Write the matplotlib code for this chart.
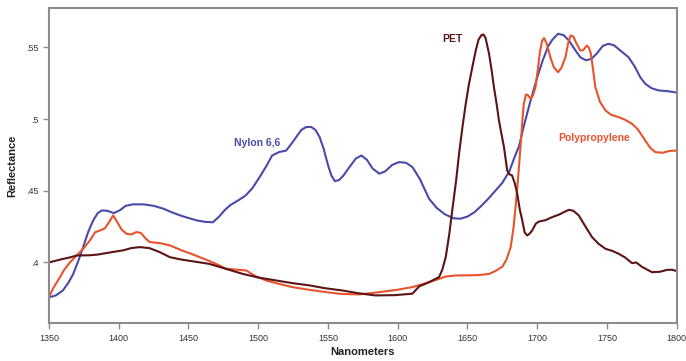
import matplotlib
matplotlib.use("Agg")
import matplotlib.pyplot as plt
from matplotlib.ticker import FuncFormatter

plt.rcParams["font.family"] = ["Liberation Sans Narrow", "Liberation Sans", "DejaVu Sans"]

# Nylon 6,6
nylon_nm = [1350, 1355, 1360, 1364, 1367.4, 1371, 1374.5, 1378, 1381.7, 1385, 1388, 1392,
            1396.5, 1401, 1405, 1410, 1418, 1425, 1432, 1438, 1444, 1450, 1456, 1462,
            1467.5, 1472, 1476, 1480, 1486, 1491, 1496, 1501, 1506, 1510, 1515, 1520,
            1524, 1528, 1531, 1534.3, 1538, 1541, 1544, 1547, 1550, 1552.5, 1555, 1558,
            1561, 1565, 1570, 1574, 1578, 1582, 1586.8, 1591, 1596, 1601, 1606, 1610.6,
            1616, 1622.5, 1628, 1634, 1640, 1645, 1650, 1655, 1660, 1665, 1670, 1675,
            1680, 1684, 1687, 1690, 1695, 1700, 1704, 1708, 1711, 1715, 1719, 1723,
            1727, 1731, 1735, 1739, 1743, 1747, 1751, 1755, 1760, 1765.6, 1770, 1774,
            1777.5, 1782, 1787, 1793, 1800]
nylon_r = [0.3756, 0.377, 0.3805, 0.386, 0.392, 0.401, 0.4107, 0.421, 0.4293, 0.4345, 0.4363, 0.436,
           0.4344, 0.4365, 0.4395, 0.4405, 0.4405, 0.4395, 0.4375, 0.435, 0.4328, 0.431, 0.4293, 0.4283,
           0.428, 0.432, 0.4365, 0.440, 0.4435, 0.4467, 0.452, 0.4595, 0.4675, 0.4746, 0.477, 0.478,
           0.483, 0.4885, 0.4925, 0.4944, 0.4945, 0.4925, 0.4875, 0.479, 0.468, 0.4605, 0.4567, 0.4575,
           0.4605, 0.466, 0.4725, 0.4746, 0.4715, 0.4655, 0.4619, 0.4635, 0.468, 0.470, 0.4695, 0.4665,
           0.458, 0.4444, 0.438, 0.4335, 0.4308, 0.4305, 0.432, 0.435, 0.4395, 0.4445, 0.450, 0.4555,
           0.4635, 0.474, 0.481, 0.4935, 0.512, 0.529, 0.541, 0.551, 0.5555, 0.5595, 0.5585, 0.5545,
           0.5485, 0.543, 0.541, 0.542, 0.546, 0.551, 0.5525, 0.5515, 0.5475, 0.543, 0.5365, 0.529,
           0.5246, 0.5215, 0.520, 0.5195, 0.5185]

# Polypropylene
pp_nm = [1350, 1353, 1357.9, 1361, 1365, 1370, 1375, 1379.3, 1383, 1387, 1390, 1393, 1396,
         1399, 1402, 1405.6, 1409, 1412.7, 1416, 1419, 1422.2, 1429.4, 1436.6, 1445, 1452,
         1458, 1465, 1472, 1477, 1484, 1491.4, 1498, 1505.7, 1515, 1524.5, 1536, 1548.6,
         1560, 1572.5, 1586.8, 1600, 1610.5, 1620, 1628, 1634.5, 1641.6, 1650, 1658.3,
         1665.5, 1670, 1675, 1678, 1681, 1683, 1684.5, 1686, 1688, 1689.5, 1690.4, 1692,
         1693.5, 1695.3, 1697, 1698.8, 1700.5, 1702, 1703.6, 1705, 1707, 1709.5, 1712, 1715,
         1717.5, 1720.3, 1722, 1723.9, 1726, 1728, 1731, 1733, 1735.5, 1737, 1738.5, 1740,
         1741.7, 1745, 1749, 1753, 1758.5, 1763, 1768, 1772, 1777.5, 1781, 1784.7, 1790,
         1795, 1800]
pp_r = [0.3756, 0.382, 0.3898, 0.395, 0.400, 0.405, 0.410, 0.4153, 0.421, 0.4225, 0.4237, 0.428, 0.4328,
        0.428, 0.423, 0.420, 0.4195, 0.4212, 0.4205, 0.417, 0.4142, 0.4135, 0.4119, 0.4085, 0.406,
        0.4037, 0.401, 0.398, 0.3956, 0.395, 0.3944, 0.3905, 0.3874, 0.385, 0.3828, 0.381, 0.3793,
        0.378, 0.3777, 0.3793, 0.381, 0.3828, 0.3855, 0.388, 0.3902, 0.3909, 0.391, 0.3912,
        0.392, 0.394, 0.397, 0.402, 0.4107, 0.424, 0.4386, 0.455, 0.4804, 0.500, 0.5107, 0.5172,
        0.5165, 0.5142, 0.5165, 0.5222, 0.535, 0.547, 0.5548, 0.5565, 0.552, 0.543, 0.536, 0.5327,
        0.536, 0.5433, 0.552, 0.5583, 0.5575, 0.553, 0.5478, 0.548, 0.5513, 0.550, 0.5455, 0.535,
        0.5222, 0.512, 0.506, 0.503, 0.5013, 0.4995, 0.4967, 0.493, 0.485, 0.480, 0.4769, 0.4765,
        0.4778, 0.478]

# PET
pet_nm = [1350, 1358, 1365, 1370, 1379, 1385, 1391, 1397, 1403, 1409, 1415, 1422, 1429.4,
          1436.6, 1445, 1455, 1465, 1477, 1489, 1500, 1513, 1525, 1536.7, 1548, 1560, 1572,
          1584, 1598, 1610.5, 1615.4, 1622, 1629.7, 1632, 1634.5, 1637, 1639.2, 1642, 1644,
          1646.5, 1648.8, 1651, 1653.5, 1656, 1658, 1660, 1661.5, 1663, 1665.5, 1667.5, 1669,
          1671, 1672.6, 1674.5, 1676.2, 1678.5, 1680, 1682, 1684, 1685.7, 1687.5, 1689.3, 1691,
          1692.8, 1694.5, 1696.4, 1699, 1701.2, 1706, 1710.7, 1716, 1720, 1722.7, 1726, 1729.8,
          1734, 1739.3, 1744, 1749, 1754, 1758.5, 1763, 1768, 1771, 1775, 1782.3, 1788, 1793,
          1796.6, 1800]
pet_r = [0.400, 0.402, 0.4035, 0.4049, 0.405, 0.4055, 0.4065, 0.4075, 0.4084, 0.410, 0.4107, 0.410, 0.4072,
         0.4037, 0.402, 0.4005, 0.399, 0.3955, 0.392, 0.3895, 0.3874, 0.3855, 0.384, 0.382, 0.3805, 0.3785,
         0.377, 0.3772, 0.3782, 0.3833, 0.386, 0.3898, 0.395, 0.404, 0.420, 0.437, 0.458, 0.476,
         0.495, 0.5107, 0.524, 0.5362, 0.548, 0.5555, 0.5585, 0.559, 0.5565, 0.5455, 0.533, 0.5222,
         0.510, 0.499, 0.489, 0.4804, 0.4642, 0.4615, 0.4607, 0.455, 0.4479, 0.437, 0.4293, 0.421,
         0.4188, 0.420, 0.4223, 0.427, 0.4285, 0.4295, 0.4316, 0.4335, 0.4355, 0.4367, 0.436, 0.4328,
         0.426, 0.4177, 0.413, 0.4095, 0.408, 0.406, 0.4035, 0.3995, 0.400, 0.397, 0.3932, 0.3935, 0.3948,
         0.3949, 0.394]

x_ticks = [1350, 1400, 1450, 1500, 1550, 1600, 1650, 1700, 1750, 1800]
y_ticks = [0.40, 0.45, 0.50, 0.55]

blue = "#4a4aa8"
red = "#e8532e"
dark = "#5c1414"

fig = plt.figure(figsize=(6.86, 3.61), dpi=100)
ax = fig.add_axes([0.0714, 0.105, 0.915, 0.873])

ax.plot(nylon_nm, nylon_r, color=blue, lw=1.5)
ax.plot(pp_nm, pp_r, color=red, lw=1.5)
ax.plot(pet_nm, pet_r, color=dark, lw=1.5)

ax.text(1499, 0.483, "Nylon 6,6", color=blue, fontsize=7.5, fontweight="bold",
        ha="center", va="center")
ax.text(1639, 0.5555, "PET", color=dark, fontsize=7.5, fontweight="bold",
        ha="center", va="center")
ax.text(1741, 0.487, "Polypropylene", color=red, fontsize=7.5, fontweight="bold",
        ha="center", va="center")

ax.set_xlim(1350, 1800)
ax.set_ylim(0.3577, 0.5775)
ax.set_xticks(x_ticks)
ax.set_yticks(y_ticks)
ax.yaxis.set_major_formatter(FuncFormatter(lambda v, p: ("%g" % v).lstrip("0")))

for s in ax.spines.values():
    s.set_color("#8c8c8c")
    s.set_linewidth(1.5)
ax.tick_params(direction="out", length=4, width=1, color="#8c8c8c",
               labelsize=6.5, labelcolor="#333333")

ax.set_xlabel("Nanometers", fontsize=8, fontweight="bold", color="#222222", labelpad=3)
ax.set_ylabel("Reflectance", fontsize=8, fontweight="bold", color="#222222", labelpad=6)

fig.savefig("out.png", dpi=100)
